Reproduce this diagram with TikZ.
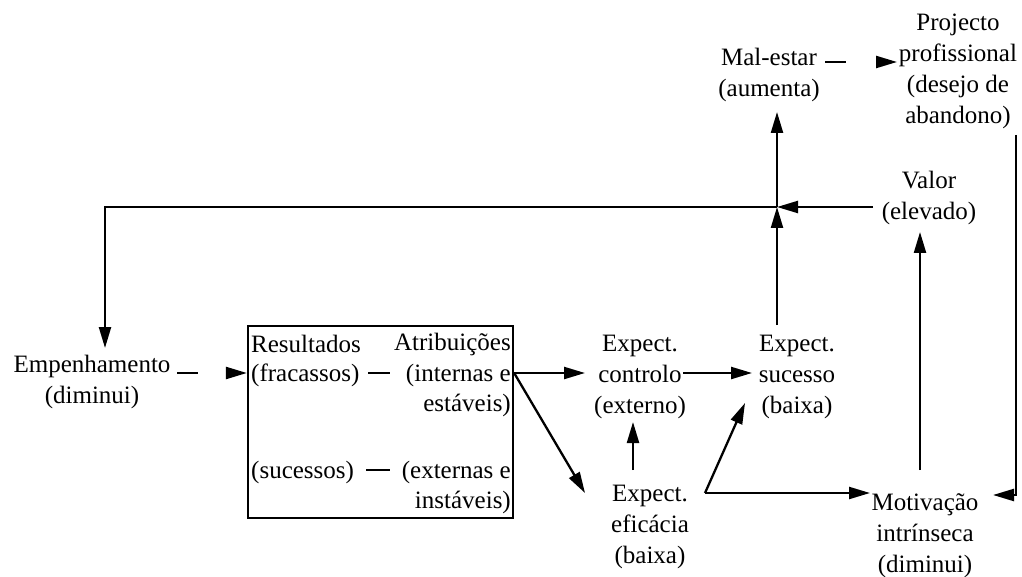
\documentclass[tikz,border=0pt]{standalone}
\usepackage{fontspec}
\setmainfont{Liberation Serif}
\usetikzlibrary{arrows.meta}
\begin{document}
\begin{tikzpicture}[x=1pt,y=-1pt,
  txt/.style={align=center, inner sep=0pt, font=\fontsize{25}{31}\selectfont},
  ln/.style={line width=2.3pt},
  arr/.style={ln, -{Triangle[length=21pt,width=12pt]}},
  gaparr/.style={arr, dash pattern=on 21pt off 60pt},
  boxst/.style={draw, line width=2.3pt, minimum width=265pt, minimum height=192pt, inner sep=0pt}
]
\useasboundingbox (0,0) rectangle (1022,577);
% nodes
\node[txt] (emp) at (92,382) {Empenhamento\\(diminui)};
\node[boxst] (box) at (380.5,422) {};
\node[txt, anchor=west] (res) at (251,344) {Resultados};
\node[txt, anchor=east] (atr) at (511,344) {Atribuições};
\node[txt, anchor=west] (fra) at (251,375) {(fracassos)};
\node[txt, anchor=east] (int) at (511,375) {(internas e};
\node[txt, anchor=east] (est) at (511,405) {estáveis)};
\node[txt, anchor=west] (sucs) at (251,472) {(sucessos)};
\node[txt, anchor=east] (ext) at (511,472) {(externas e};
\node[txt, anchor=east] (ins) at (511,502) {instáveis)};
\node[txt] (ctrl) at (640,377) {Expect.\\controlo\\(externo)};
\node[txt] (suc) at (797,377) {Expect.\\sucesso\\(baixa)};
\node[txt] (efic) at (650,527) {Expect.\\eficácia\\(baixa)};
\node[txt] (mot) at (925,536) {Motivação\\intrínseca\\(diminui)};
\node[txt] (val) at (929,198) {Valor\\(elevado)};
\node[txt] (mal) at (769,75) {Mal-estar\\(aumenta)};
\node[txt] (proj) at (958,71) {Projecto\\profissional\\(desejo de\\abandono)};
% coordinates
\coordinate (J) at (777,207);
\coordinate (L) at (105,207);
\coordinate (E) at (705,493);
\coordinate (R) at (1016,495);
\coordinate (m1) at (825,62);
\coordinate (p1) at (897,62);
\coordinate (e1) at (177,373);
% dashes inside the box
\draw[ln] (368,373) -- (390,373);
\draw[ln] (366,470) -- (390,470);
% connectors
\draw[gaparr] (e1) -- (box.west |- e1);
\draw[gaparr] (m1) -- (p1);
\draw[arr] (box.east |- 0,373) -- (585,373);
\draw[arr] (box.east |- 0,373) -- (585,493);
\draw[arr] (683,373) -- (752,373);
\draw[arr] (633,470) -- (633,422);
\draw[arr] (E) -- (745,403);
\draw[arr] (E) -- (870,493);
\draw[arr] (777,325) -- (J);
\draw[arr] (J) -- (777,112);
\draw[arr] (873,207) -- (J);
\draw[arr] (J) -- (L) -- (105,348);
\draw[arr] (920,470) -- (920,232);
\draw[arr] (1016,135) -- (R) -- (993,495);
\end{tikzpicture}
\end{document}
